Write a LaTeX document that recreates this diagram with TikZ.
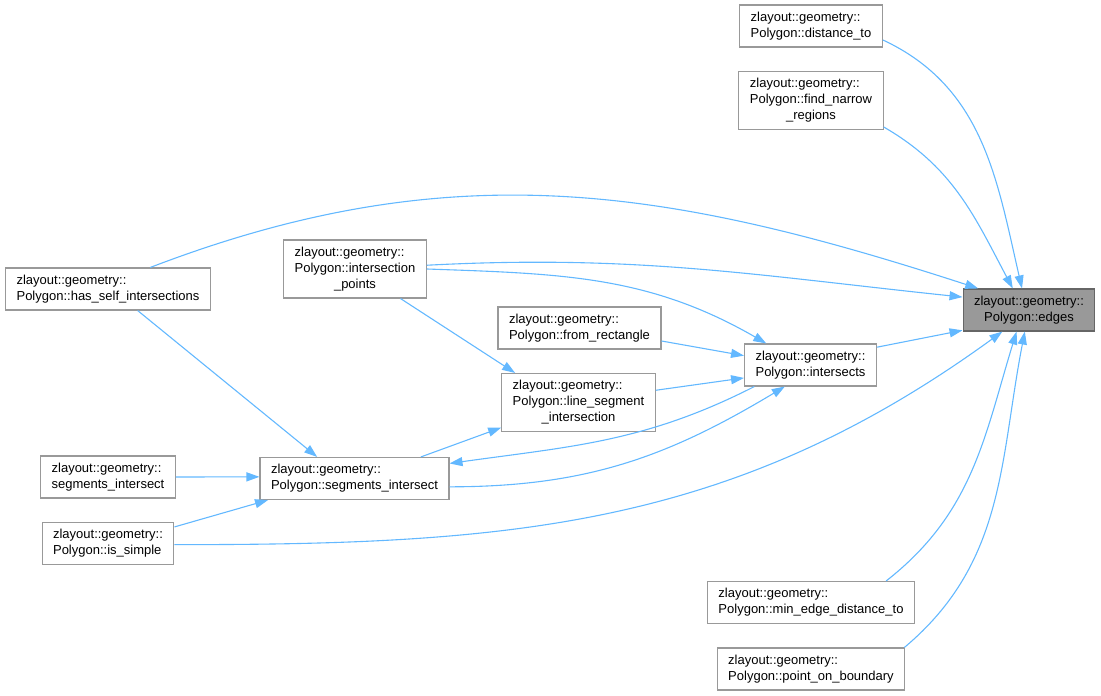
\documentclass[tikz,border=0pt]{standalone}
\usepackage{fontspec}
\setmainfont{Liberation Sans}
\usetikzlibrary{arrows.meta}
\definecolor{callblue}{HTML}{63B8FF}
\definecolor{boxgray}{HTML}{999999}
\definecolor{hldark}{HTML}{666666}
\newcommand{\fnlabel}[1]{\begin{tabular}{@{}l@{}}#1\end{tabular}}
\newcommand{\midline}[1]{\multicolumn{1}{@{}c@{}}{#1}}

\begin{document}
\begin{tikzpicture}
        [x=1pt,y=1pt,every node/.style={shape=rectangle,draw=boxgray,fill=white,
        line width=1.1pt,inner xsep=11pt,inner ysep=5pt,font=\fontsize{13}{16}\selectfont},
        calls/.style={draw=callblue,line width=1.1pt,-{Triangle[length=13pt,width=9pt]}}]
        \useasboundingbox (0,0) rectangle (1101,-696);
        \node (edges) at (1029,-310) [fill=boxgray,draw=hldark] {\fnlabel{zlayout::geometry::\\\midline{Polygon::edges}}};
        %%
        \node (dist) at (811,-26) {\fnlabel{zlayout::geometry::\\Polygon::distance\_to}};
        \node (narrow) at (811,-100.5) {\fnlabel{zlayout::geometry::\\Polygon::find\_narrow\\\midline{\_regions}}};
        \node (selfint) at (108,-289) {\fnlabel{zlayout::geometry::\\Polygon::has\_self\_intersections}};
        \node (ipts) at (355,-269) {\fnlabel{zlayout::geometry::\\Polygon::intersection\\\midline{\_points}}};
        \node (rect) at (579.5,-328) {\fnlabel{zlayout::geometry::\\Polygon::from\_rectangle}};
        \node (isects) at (810.5,-365) {\fnlabel{zlayout::geometry::\\Polygon::intersects}};
        \node (lsi) at (578.5,-402.5) {\fnlabel{zlayout::geometry::\\Polygon::line\_segment\\\midline{\_intersection}}};
        \node (psi) at (354.5,-478.5) {\fnlabel{zlayout::geometry::\\Polygon::segments\_intersect}};
        \node (si) at (108,-477) {\fnlabel{zlayout::geometry::\\segments\_intersect}};
        \node (simple) at (108,-543.5) {\fnlabel{zlayout::geometry::\\Polygon::is\_simple}};
        \node (minedge) at (811,-602.5) {\fnlabel{zlayout::geometry::\\Polygon::min\_edge\_distance\_to}};
        \node (onbound) at (811,-669) {\fnlabel{zlayout::geometry::\\Polygon::point\_on\_boundary}};
        %%
        \path
        \foreach \startNode/\endNode in {ipts.-33/lsi.155, rect.-9/isects.172,
          lsi.9/isects.-169, isects.15/edges.-163, psi.18/lsi.-162,
          selfint.-36/psi.150, si.0/psi.179, simple.14/psi.-166}
        {
          (\startNode) edge[calls] (\endNode)
        };
        \path
        \foreach \startNode/\endNode/\outAng/\inAng in {dist.-11/edges.108/-25/103,
          narrow.-20/edges.127/-30/118, selfint.27/edges.157/21/162,
          ipts.3/edges.169/3/174, ipts.0/isects.154/-2/150,
          isects.-159/psi.9/207/8, psi.-5/isects.-140/0/211,
          simple.-1/edges.-141/0/216, minedge.16/edges.-120/38/253,
          onbound.13/edges.-101/40/259}
        {
          (\startNode) edge[calls,out=\outAng,in=\inAng] (\endNode)
        };
\end{tikzpicture}
\end{document}
